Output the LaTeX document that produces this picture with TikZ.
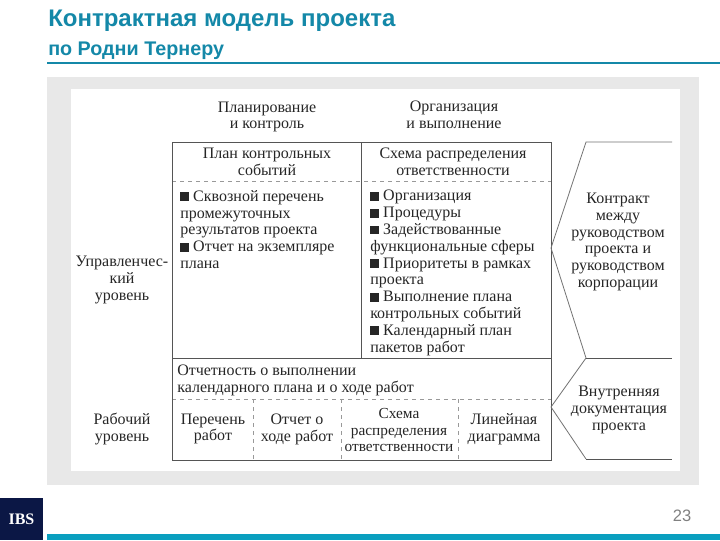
\documentclass[tikz,border=0pt]{standalone}
\usepackage{fontspec}
\setmainfont{Liberation Serif}
\newfontfamily\headfont{Liberation Sans}
\usepackage{tikz}
\definecolor{ibsteal}{HTML}{1488A8}
\definecolor{ibsbar}{HTML}{0A9FBF}
\definecolor{ibsnavy}{HTML}{0B1745}
\definecolor{panelgray}{HTML}{E8E8E8}
\definecolor{gridgray}{HTML}{555555}
\newcommand{\sq}{\rule{0.56em}{0.56em}\ }
\tikzset{
  body/.style={inner sep=0pt,align=center,text=black!85,font=\fontsize{12}{12.6}\selectfont},
  listbody/.style={body,anchor=north west,align=left},
  grid/.style={draw=gridgray,line width=0.7pt},
  griddash/.style={draw=gray!80,line width=0.6pt,dashed},
  brace/.style={draw=gray!90!black,line width=0.6pt}
}
\begin{document}
\begin{tikzpicture}[x=0.75pt,y=-0.75pt]
  \useasboundingbox (0,0) rectangle (720,540);
  % frame of the slide
  \fill[panelgray] (47,77) rectangle (699,485);
  \fill[white] (71,89) rectangle (680,471);
  \fill[ibsteal] (47,62) rectangle (720,64);
  \fill[ibsbar] (47,534) rectangle (720,540);
  \node[fill=ibsnavy,minimum width=32.25pt,minimum height=31.5pt,inner sep=0pt,
    text=white,font=\fontsize{12}{13}\selectfont\bfseries] (logo) at (21.5,519) {IBS};
  \node[anchor=west,inner sep=0pt,text=ibsteal,font=\headfont\bfseries\fontsize{18}{20}\selectfont] (title) at (48,21) {Контрактная модель проекта};
  \node[anchor=west,inner sep=0pt,text=ibsteal,font=\headfont\bfseries\fontsize{14.8}{16}\selectfont] (subtitle) at (48,51) {по Родни Тернеру};
  \node[text=gray,inner sep=0pt,font=\headfont\fontsize{12.4}{14}\selectfont] (page) at (682,516) {23};
  % table
  \draw[griddash] (172,181) -- (551,181);
  \draw[griddash] (172,399) -- (551,399);
  \draw[griddash] (253,399) -- (253,460);
  \draw[griddash] (341,399) -- (341,460);
  \draw[griddash] (458,399) -- (458,460);
  \draw[grid] (172,142) rectangle (551,460);
  \draw[grid] (361,142) -- (361,358);
  \draw[grid] (172,358) -- (551,358);
  % brackets on the right
  \coordinate (topend) at (672,142);
  \coordinate (topbend) at (586,142);
  \coordinate (toptip) at (551,248);
  \coordinate (midbend) at (586,358);
  \coordinate (midend) at (672,358);
  \coordinate (lowtip) at (551,407);
  \coordinate (lowbend) at (586,459);
  \coordinate (lowend) at (672,459);
  \draw[brace] (topend) -- (topbend) -- (toptip) -- (midbend) -- (lowtip) -- (lowbend);
  \draw[grid] (midbend) -- (midend);
  \draw[grid] (lowbend) -- (lowend);
  % texts
  \node[body] (plan) at (267,117) {Планирование\\и контроль};
  \node[body] (org) at (454,115) {Организация\\и выполнение};
  \node[body] (plancell) at (267,162) {План контрольных\\событий};
  \node[body] (orgcell) at (453,162) {Схема распределения\\ответственности};
  \node[listbody] (planlist) at (180,190) {\sq Сквозной перечень\\промежуточных\\результатов проекта\\\sq Отчет на экземпляре\\плана};
  \node[listbody] (orglist) at (370,190) {\sq Организация\\\sq Процедуры\\\sq Задействованные\\функциональные сферы\\\sq Приоритеты в рамках\\проекта\\\sq Выполнение плана\\контрольных событий\\\sq Календарный план\\пакетов работ};
  \node[body] (manage) at (122,280) {Управленчес-\\кий\\уровень};
  \node[body] (work) at (122,429) {Рабочий\\уровень};
  \node[listbody] (report) at (177,365) {Отчетность о выполнении\\календарного плана и о ходе работ};
  \node[body] (list1) at (213,429) {Перечень\\работ};
  \node[body] (list2) at (297,429) {Отчет о\\ходе работ};
  \node[body,font=\fontsize{11.5}{12.6}\selectfont] (list3) at (399,430) {Схема\\распределения\\ответственности};
  \node[body] (list4) at (504,429) {Линейная\\диаграмма};
  \node[body] (contract) at (618,242) {Контракт\\между\\руководством\\проекта и\\руководством\\корпорации};
  \node[body] (inner) at (619,410) {Внутренняя\\документация\\проекта};
\end{tikzpicture}
\end{document}
